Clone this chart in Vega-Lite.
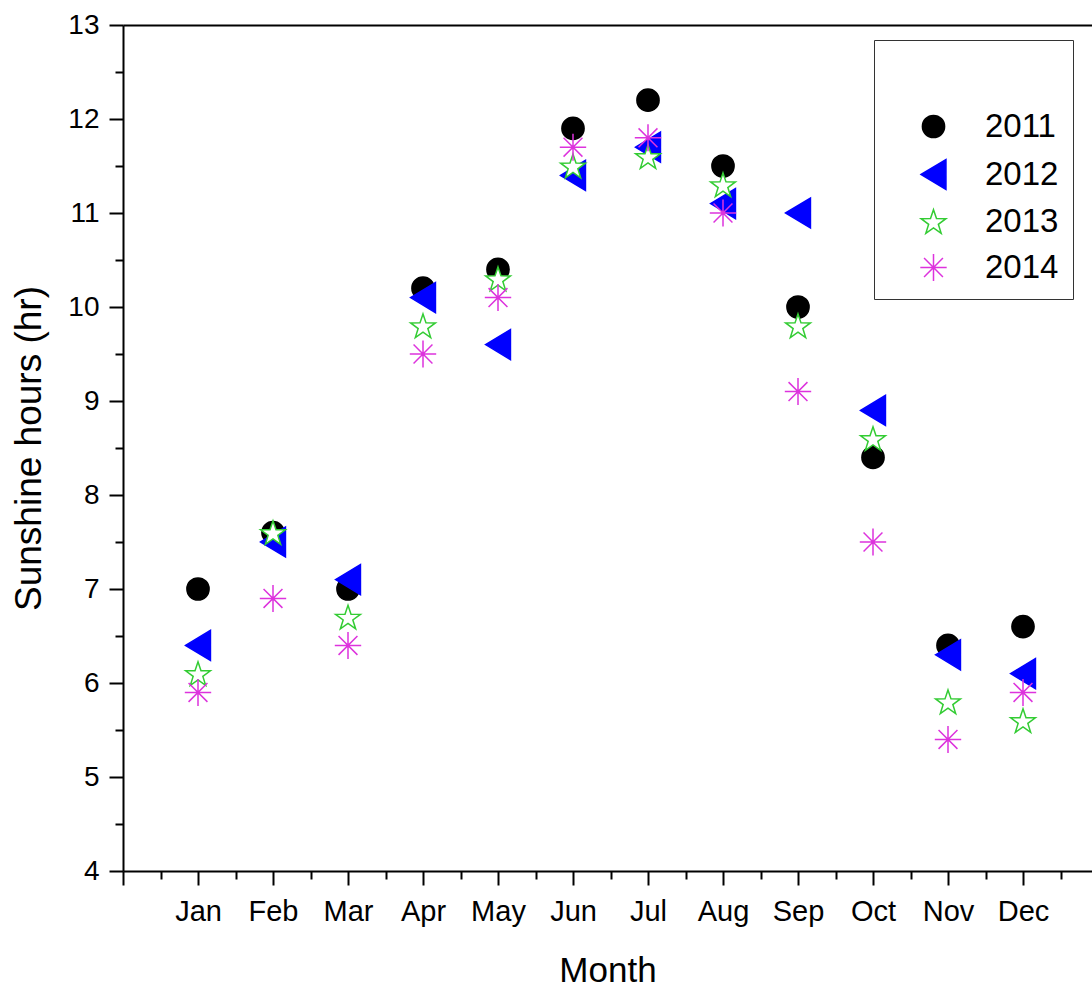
{
  "$schema": "https://vega.github.io/schema/vega-lite/v6.json",
  "autosize": {"type": "none"},
  "padding": {"left": 123, "top": 25, "right": 0, "bottom": 119},
  "width": 969,
  "height": 846,
  "background": "white",
  "config": {
    "font": "Liberation Sans",
    "view": {"stroke": null},
    "axis": {
      "domainColor": "black",
      "domainWidth": 2,
      "tickColor": "black",
      "tickWidth": 2,
      "labelColor": "black",
      "titleColor": "black",
      "labelFont": "Liberation Sans",
      "titleFont": "Liberation Sans",
      "labelFontSize": 28,
      "titleFontSize": 35,
      "titleFontWeight": "normal",
      "grid": false,
      "labelOverlap": false,
      "labelFlush": false,
      "labelBound": false
    },
    "legend": {
      "labelFont": "Liberation Sans",
      "titleFont": "Liberation Sans"
    }
  },
  "data": {
    "values": [
      {"month": 1, "year": "2011", "hours": 7.0},
      {"month": 1, "year": "2012", "hours": 6.4},
      {"month": 1, "year": "2013", "hours": 6.1},
      {"month": 1, "year": "2014", "hours": 5.9},
      {"month": 2, "year": "2011", "hours": 7.6},
      {"month": 2, "year": "2012", "hours": 7.5},
      {"month": 2, "year": "2013", "hours": 7.6},
      {"month": 2, "year": "2014", "hours": 6.9},
      {"month": 3, "year": "2011", "hours": 7.0},
      {"month": 3, "year": "2012", "hours": 7.1},
      {"month": 3, "year": "2013", "hours": 6.7},
      {"month": 3, "year": "2014", "hours": 6.4},
      {"month": 4, "year": "2011", "hours": 10.2},
      {"month": 4, "year": "2012", "hours": 10.1},
      {"month": 4, "year": "2013", "hours": 9.8},
      {"month": 4, "year": "2014", "hours": 9.5},
      {"month": 5, "year": "2011", "hours": 10.4},
      {"month": 5, "year": "2012", "hours": 9.6},
      {"month": 5, "year": "2013", "hours": 10.3},
      {"month": 5, "year": "2014", "hours": 10.1},
      {"month": 6, "year": "2011", "hours": 11.9},
      {"month": 6, "year": "2012", "hours": 11.4},
      {"month": 6, "year": "2013", "hours": 11.5},
      {"month": 6, "year": "2014", "hours": 11.7},
      {"month": 7, "year": "2011", "hours": 12.2},
      {"month": 7, "year": "2012", "hours": 11.7},
      {"month": 7, "year": "2013", "hours": 11.6},
      {"month": 7, "year": "2014", "hours": 11.8},
      {"month": 8, "year": "2011", "hours": 11.5},
      {"month": 8, "year": "2012", "hours": 11.1},
      {"month": 8, "year": "2013", "hours": 11.3},
      {"month": 8, "year": "2014", "hours": 11.0},
      {"month": 9, "year": "2011", "hours": 10.0},
      {"month": 9, "year": "2012", "hours": 11.0},
      {"month": 9, "year": "2013", "hours": 9.8},
      {"month": 9, "year": "2014", "hours": 9.1},
      {"month": 10, "year": "2011", "hours": 8.4},
      {"month": 10, "year": "2012", "hours": 8.9},
      {"month": 10, "year": "2013", "hours": 8.6},
      {"month": 10, "year": "2014", "hours": 7.5},
      {"month": 11, "year": "2011", "hours": 6.4},
      {"month": 11, "year": "2012", "hours": 6.3},
      {"month": 11, "year": "2013", "hours": 5.8},
      {"month": 11, "year": "2014", "hours": 5.4},
      {"month": 12, "year": "2011", "hours": 6.6},
      {"month": 12, "year": "2012", "hours": 6.1},
      {"month": 12, "year": "2013", "hours": 5.6},
      {"month": 12, "year": "2014", "hours": 5.9}
    ]
  },
  "layer": [
    {
      "mark": {"type": "point", "size": 900, "strokeWidth": 1.5, "opacity": 1},
      "encoding": {
        "x": {
          "field": "month",
          "type": "quantitative",
          "scale": {"domain": [0, 12.92], "nice": false, "zero": false},
          "axis": {
            "orient": "bottom",
            "title": "Month",
            "values": [0, 0.5, 1, 1.5, 2, 2.5, 3, 3.5, 4, 4.5, 5, 5.5, 6, 6.5, 7, 7.5, 8, 8.5, 9, 9.5, 10, 10.5, 11, 11.5, 12, 12.5],
            "labelExpr": "(datum.value % 1 === 0 && datum.value >= 1) ? ['','Jan','Feb','Mar','Apr','May','Jun','Jul','Aug','Sep','Oct','Nov','Dec'][datum.value] : ''",
            "tickSize": {"condition": {"test": "datum.value % 1 !== 0", "value": 8}, "value": 14},
            "labelFontSize": 29,
            "labelPadding": 12,
            "titlePadding": 27
          }
        },
        "y": {
          "field": "hours",
          "type": "quantitative",
          "scale": {"domain": [4, 13], "nice": false, "zero": false},
          "axis": {
            "title": "Sunshine hours (hr)",
            "titleFontSize": 37,
            "values": [4, 4.5, 5, 5.5, 6, 6.5, 7, 7.5, 8, 8.5, 9, 9.5, 10, 10.5, 11, 11.5, 12, 12.5, 13],
            "labelExpr": "datum.value % 1 === 0 ? datum.value : ''",
            "tickSize": {"condition": {"test": "datum.value % 1 !== 0", "value": 8}, "value": 14},
            "labelPadding": 10,
            "titlePadding": 19
          }
        },
        "shape": {
          "field": "year",
          "type": "nominal",
          "scale": {
            "domain": ["2011", "2012", "2013", "2014"],
            "range": [
              "M-0.74,0A0.74,0.74,0,1,1,0.74,0A0.74,0.74,0,1,1,-0.74,0Z",
              "M-0.83,0L0.83,-1L0.83,1Z",
              "M0,-0.79L0.2,-0.195L0.827,-0.189L0.323,0.185L0.511,0.784L0,0.42L-0.511,0.784L-0.323,0.185L-0.827,-0.189L-0.2,-0.195Z",
              "M-0.88,0L0.88,0M0,-0.9L0,0.9M-0.63,-0.63L0.63,0.63M-0.63,0.63L0.63,-0.63"
            ]
          },
          "legend": {
            "orient": "none",
            "legendX": 751,
            "legendY": 15,
            "title": "                 ",
            "titleFontSize": 40,
            "titlePadding": 16,
            "padding": 14,
            "strokeColor": "#333333",
            "fillColor": "white",
            "symbolSize": 900,
            "symbolStrokeWidth": 1.5,
            "symbolOffset": 29,
            "labelOffset": 35,
            "labelFontSize": 33,
            "labelColor": "black",
            "rowPadding": 12
          }
        },
        "fill": {
          "field": "year",
          "type": "nominal",
          "scale": {"domain": ["2011", "2012", "2013", "2014"], "range": ["black", "#0000ff", "white", "transparent"]}
        },
        "stroke": {
          "field": "year",
          "type": "nominal",
          "scale": {"domain": ["2011", "2012", "2013", "2014"], "range": ["black", "#0000ff", "#33cc33", "#dd33dd"]}
        }
      }
    },
    {
      "mark": {"type": "point", "opacity": 0},
      "encoding": {
        "x": {
          "field": "month",
          "type": "quantitative",
          "axis": {"orient": "top", "title": null, "labels": false, "ticks": false, "domain": true}
        }
      }
    }
  ],
  "resolve": {"axis": {"x": "independent"}}
}
